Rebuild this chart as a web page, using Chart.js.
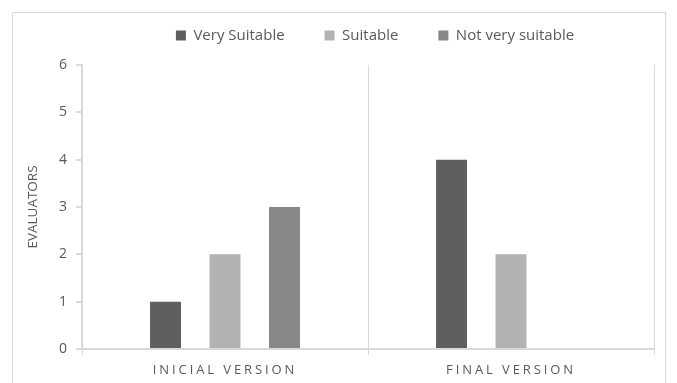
<!DOCTYPE html>
<html>
<head>
<meta charset="utf-8">
<script src="https://cdn.jsdelivr.net/npm/chart.js@4.4.0/dist/chart.umd.min.js"></script>
<style>
  html, body { margin: 0; padding: 0; background: #fff; }
  #wrap { position: relative; width: 677px; height: 383px; }
  #frame { position: absolute; left: 12px; top: 12px; width: 652px; height: 380px; border: 1px solid #d9d9d9; }
  canvas { position: absolute; left: 0; top: 0; }
</style>
</head>
<body>
<div id="wrap">
  <div id="frame"></div>
  <canvas id="chart" width="677" height="383"></canvas>
</div>
<script>
const categories = ['INICIAL VERSION', 'FINAL VERSION'];
const seriesNames = ['Very Suitable', 'Suitable', 'Not very suitable'];
const verySuitable = [1, 4];
const suitable = [2, 2];
const notVerySuitable = [3, 0];
const yTicks = [0, 1, 2, 3, 4, 5, 6];

const colors = ['#5f5f5f', '#b2b2b2', '#878787'];
const textColor = '#595959';
const lineColor = '#d9d9d9';
const font = 'Open Sans';

// x labels are drawn letter-spaced, legend gets a fixed height and a shift
const tweaks = {
  id: 'tweaks',
  afterInit(chart) {
    const lg = chart.legend;
    const fit = lg.fit.bind(lg);
    lg.fit = function () {
      fit();
      this.height = 58;
    };
    const draw = lg.draw.bind(lg);
    lg.draw = function () {
      chart.ctx.save();
      chart.ctx.translate(42, -19);
      draw();
      chart.ctx.restore();
    };
  },
  afterUpdate(chart) {
    const s = chart.scales.x;
    if (s && !s._spaced) {
      const orig = s.drawLabels.bind(s);
      s.drawLabels = function (area) {
        chart.ctx.save();
        chart.ctx.letterSpacing = '2.9px';
        orig(area);
        chart.ctx.restore();
      };
      s._spaced = true;
    }
  },
};

new Chart(document.getElementById('chart'), {
  type: 'bar',
  data: {
    labels: categories,
    datasets: [
      { label: seriesNames[0], data: verySuitable, backgroundColor: colors[0] },
      { label: seriesNames[1], data: suitable, backgroundColor: colors[1] },
      { label: seriesNames[2], data: notVerySuitable, backgroundColor: colors[2] },
    ],
  },
  options: {
    responsive: false,
    animation: false,
    layout: { padding: { top: 7, left: 12, right: 23, bottom: 0 } },
    datasets: { bar: { categoryPercentage: 0.624, barPercentage: 0.52, borderWidth: 0 } },
    plugins: {
      tooltip: { enabled: false },
      legend: {
        position: 'top',
        labels: {
          boxWidth: 10,
          boxHeight: 10,
          padding: 40,
          color: textColor,
          font: { size: 15, family: font },
        },
      },
    },
    scales: {
      x: {
        afterFit: (s) => { s.height = 34; },
        grid: { offset: true, color: lineColor, lineWidth: 1, tickLength: 6, drawOnChartArea: true },
        border: { color: lineColor, width: 2 },
        ticks: { color: textColor, padding: 7, font: { size: 13, family: font } },
      },
      y: {
        min: 0,
        max: 6,
        afterFit: (s) => { s.width = 70; },
        afterBuildTicks: (s) => { s.ticks = yTicks.map((v) => ({ value: v })); },
        grid: { drawOnChartArea: false, color: lineColor, lineWidth: 2, tickLength: 6 },
        border: { color: lineColor, width: 2 },
        ticks: { color: textColor, padding: 9, font: { size: 14, family: font } },
        title: {
          display: true,
          text: 'EVALUATORS',
          color: textColor,
          padding: { top: 13, bottom: 0 },
          font: { size: 13.5, family: font },
        },
      },
    },
  },
  plugins: [tweaks],
});
</script>
</body>
</html>
